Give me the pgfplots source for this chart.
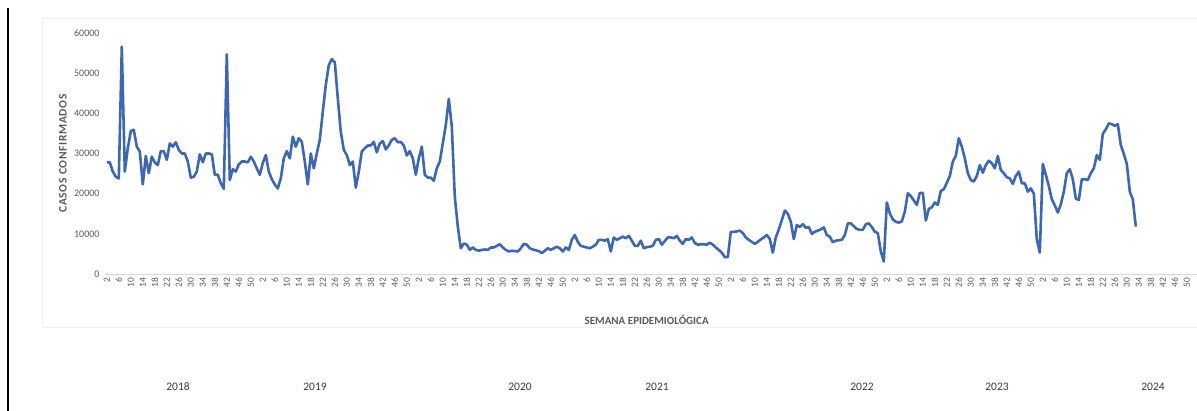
\documentclass[border=0pt]{standalone}
\usepackage{pgfplots}
\pgfplotsset{compat=1.18}
\usepackage{fontspec}
\setmainfont{Carlito}
\definecolor{serie}{HTML}{3E67B1}
\definecolor{gristxt}{HTML}{595959}
\definecolor{eje}{HTML}{D9D9D9}

% casos confirmados por semana; x = semana corrida desde 2018 (52 por año)
\pgfplotstableread{
t v
2 27800
3 27800
4 25500
5 24200
6 23800
7 56600
8 25500
9 31300
10 35600
11 35900
12 31700
13 30500
14 22300
15 29400
16 25100
17 29200
18 27800
19 27100
20 30600
21 30600
22 28400
23 32500
24 31700
25 32800
26 30900
27 30000
28 30000
29 28000
30 24000
31 24200
32 25500
33 29800
34 27800
35 30000
36 30000
37 29800
38 24700
39 24700
40 22600
41 21200
42 54700
43 23400
44 26100
45 25500
46 27300
47 28000
48 28000
49 27800
50 29200
51 28000
52 26300
53 24700
54 27600
55 29600
56 25500
57 23600
58 22300
59 21300
60 23800
61 28800
62 30600
63 28800
64 34200
65 31700
66 33800
67 32900
68 28000
69 22300
70 30000
71 26300
72 30000
73 33400
74 40400
75 47100
76 52000
77 53500
78 52700
79 43700
80 35400
81 30900
82 29600
83 27100
84 28000
85 21500
86 25500
87 30500
88 31300
89 32000
90 32000
91 32900
92 30300
93 32500
94 33100
95 31000
96 32000
97 33400
98 33800
99 32800
100 32900
101 32000
102 29500
103 30600
104 28800
105 24700
106 28800
107 31700
108 24700
109 24000
110 24000
111 23200
112 26300
113 28000
114 32500
115 37100
116 43600
117 36700
118 19200
119 11800
120 6400
121 7600
122 7300
123 6000
124 6600
125 6000
126 5800
127 6000
128 6100
129 6000
130 6600
131 6600
132 7000
133 7400
134 6600
135 6000
136 5600
137 5800
138 5700
139 5600
140 6400
141 7500
142 7300
143 6400
144 6100
145 5900
146 5700
147 5200
148 5800
149 6400
150 6000
151 6400
152 6800
153 6400
154 5600
155 6600
156 6000
157 8500
158 9700
159 8000
160 7000
161 6800
162 6600
163 6400
164 6800
165 7300
166 8500
167 8500
168 8300
169 8700
170 5600
171 9100
172 8500
173 8900
174 9300
175 8900
176 9500
177 8300
178 7000
179 7000
180 8300
181 6400
182 6700
183 6800
184 7000
185 8500
186 8700
187 7300
188 8200
189 9100
190 9100
191 8900
192 9500
193 8300
194 7500
195 8700
196 8500
197 9100
198 7700
199 7300
200 7400
201 7400
202 7300
203 7800
204 7300
205 6600
206 6000
207 5300
208 4200
209 4200
210 10500
211 10500
212 10600
213 10800
214 10200
215 9100
216 8500
217 8000
218 7500
219 8000
220 8600
221 9100
222 9700
223 8700
224 5300
225 9100
226 11100
227 13400
228 15800
229 15000
230 13000
231 8700
232 12200
233 11700
234 12400
235 11500
236 11700
237 10000
238 10500
239 10800
240 11100
241 11600
242 9700
243 9300
244 7900
245 8300
246 8400
247 8500
248 9700
249 12600
250 12600
251 11900
252 11200
253 11000
254 11000
255 12400
256 12600
257 11700
258 10500
259 10200
260 5600
261 3100
262 17800
263 15100
264 13600
265 13000
266 12800
267 13100
268 15500
269 20100
270 19400
271 18300
272 17200
273 20200
274 20200
275 13300
276 16200
277 16600
278 17800
279 17200
280 20700
281 21100
282 22700
283 24400
284 28000
285 29400
286 33800
287 31700
288 28800
289 25100
290 23400
291 23000
292 24400
293 27100
294 25200
295 27100
296 28200
297 27600
298 26300
299 29400
300 25900
301 25100
302 24100
303 23800
304 22400
305 24400
306 25500
307 22600
308 22600
309 20500
310 21300
311 20000
312 8600
313 5300
314 27400
315 24700
316 21900
317 18600
318 17100
319 15300
320 17300
321 20500
322 25100
323 26100
324 23600
325 18800
326 18400
327 23600
328 23600
329 23400
330 25100
331 26300
332 29600
333 28400
334 34900
335 36000
336 37500
337 37300
338 36900
339 37300
340 32100
341 29900
342 27400
343 20500
344 18600
345 11800
}\casos

\begin{document}
\begin{tikzpicture}
\useasboundingbox (0,0) rectangle (1197pt,411pt);
\draw[black!6] (42pt,84pt) rectangle (1210pt,393pt);
\draw[black, line width=1.4pt] (8pt,0pt) -- (8pt,403pt);
\begin{axis}[
    at={(105pt,137pt)}, anchor=south west,
    scale only axis,
    width=1092pt, height=241pt,
    xmin=1.4, xmax=365.4,
    ymin=0, ymax=60000,
    axis x line*=bottom, axis y line*=left,
    x axis line style={draw=eje, line width=0.9pt, -},
    y axis line style={draw=none},
    major tick length=0pt,
    ytick={0,10000,...,60000},
    scaled y ticks=false,
    /pgf/number format/fixed,
    /pgf/number format/1000 sep={},
    /pgf/number format/assume math mode=true,
    yticklabel style={font=\fontsize{10}{12}\selectfont, text=gristxt, xshift=-2pt},
    xtick={2,6,...,362},
    xticklabels={2,6,10,14,18,22,26,30,34,38,42,46,50,
                 2,6,10,14,18,22,26,30,34,38,42,46,50,
                 2,6,10,14,18,22,26,30,34,38,42,46,50,
                 2,6,10,14,18,22,26,30,34,38,42,46,50,
                 2,6,10,14,18,22,26,30,34,38,42,46,50,
                 2,6,10,14,18,22,26,30,34,38,42,46,50,
                 2,6,10,14,18,22,26,30,34,38,42,46,50},
    xticklabel style={rotate=90, anchor=east, font=\fontsize{9.5}{11}\selectfont\addfontfeatures{LetterSpace=8}, text=gristxt},
    xlabel={SEMANA EPIDEMIOLÓGICA},
    ylabel={CASOS CONFIRMADOS},
    label style={font=\bfseries\fontsize{11}{13}\selectfont, text=gristxt},
    xlabel style={at={(axis description cs:0.496,-0.191)}, anchor=center},
    ylabel style={at={(axis description cs:-0.0385,0.5)}, anchor=center,
                  font=\bfseries\fontsize{11.5}{13}\selectfont\addfontfeatures{LetterSpace=6}},
    clip=false,
]
\addplot[serie, line width=2.6pt, line join=round] table[x=t, y=v] {\casos};
\end{axis}
\foreach \xx/\yy in {178/2018, 315/2019, 520/2020, 657/2021, 862/2022, 997/2023, 1153/2024}
  \node[text=black!78, font=\fontsize{11.5}{13}\selectfont] at (\xx pt,24pt) {\yy};
\end{tikzpicture}
\end{document}
